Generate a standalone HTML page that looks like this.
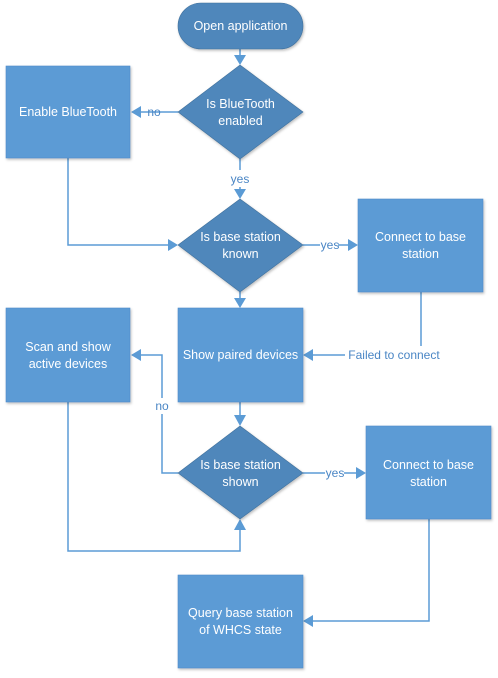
<!DOCTYPE html>
<html><head><style>
html,body{margin:0;padding:0;background:#fff;}
svg{display:block;}
text{font-family:"Liberation Sans",sans-serif;font-size:12.5px;}
.w{fill:#fff;text-anchor:middle;}
.l{fill:#4a86c5;text-anchor:middle;font-size:12px;}
.ln{stroke:#5b9bd5;stroke-width:1.5;fill:none;}
.bx{fill:#5b9bd5;stroke:#4f8ccb;stroke-width:0.6;}
.dm{fill:#4f87bb;stroke:#41719c;stroke-width:0.6;}
.ah{fill:#5b9bd5;}
</style></head><body>
<svg width="498" height="678" viewBox="0 0 498 678" xmlns="http://www.w3.org/2000/svg">
<defs>
<filter id="sh" x="-10%" y="-10%" width="130%" height="130%"><feDropShadow dx="1" dy="1.5" stdDeviation="1.2" flood-color="#000" flood-opacity="0.25"/></filter>
</defs>
<path class="ln" d="M240 49 V58"/>
<path class="ah" d="M234 55 L246 55 L240 65 Z"/>
<path class="ln" d="M178 112 H140"/>
<path class="ah" d="M131 112 L141 106 L141 118 Z"/>
<path class="ln" d="M240 159 V170 M240 187 V192"/>
<path class="ah" d="M234 189 L246 189 L240 199 Z"/>
<path class="ln" d="M68 158 V245 H170"/>
<path class="ah" d="M178 245 L168 239 L168 251 Z"/>
<path class="ln" d="M303 245 H320 M338 245 H350"/>
<path class="ah" d="M358 245 L348 239 L348 251 Z"/>
<path class="ln" d="M240 292 V300"/>
<path class="ah" d="M234 298 L246 298 L240 308 Z"/>
<path class="ln" d="M421 292 V346 M345 355 H312"/>
<path class="ah" d="M303 355 L313 349 L313 361 Z"/>
<path class="ln" d="M240 402 V418"/>
<path class="ah" d="M234 415 L246 415 L240 426 Z"/>
<path class="ln" d="M178 473 H162 V414 M162 398 V355 H140"/>
<path class="ah" d="M131 355 L141 349 L141 361 Z"/>
<path class="ln" d="M303 473 H325 M344 473 H358"/>
<path class="ah" d="M366 473 L356 467 L356 479 Z"/>
<path class="ln" d="M68 402 V551 H240 V528"/>
<path class="ah" d="M234 530 L246 530 L240 519 Z"/>
<path class="ln" d="M429 519 V621 H312"/>
<path class="ah" d="M303 621 L313 615 L313 627 Z"/>
<rect x="178" y="3" width="125" height="46" rx="23" class="dm" filter="url(#sh)"/>
<text class="w" x="240.5" y="30">Open application</text>
<path class="dm" d="M240 65 L303 112 L240 159 L178 112 Z" filter="url(#sh)"/>
<text class="w" x="240.5" y="108">Is BlueTooth</text>
<text class="w" x="240.5" y="125">enabled</text>
<rect class="bx" x="6" y="66" width="124" height="92" filter="url(#sh)"/>
<text class="w" x="68" y="116">Enable BlueTooth</text>
<path class="dm" d="M240 199 L303 245 L240 292 L178 245 Z" filter="url(#sh)"/>
<text class="w" x="240.5" y="241">Is base station</text>
<text class="w" x="240.5" y="258">known</text>
<rect class="bx" x="358" y="199" width="125" height="93" filter="url(#sh)"/>
<text class="w" x="420.5" y="241">Connect to base</text>
<text class="w" x="420.5" y="258">station</text>
<rect class="bx" x="178" y="308" width="125" height="94" filter="url(#sh)"/>
<text class="w" x="240.5" y="359">Show paired devices</text>
<rect class="bx" x="6" y="308" width="124" height="94" filter="url(#sh)"/>
<text class="w" x="68" y="351">Scan and show</text>
<text class="w" x="68" y="368">active devices</text>
<path class="dm" d="M240 426 L303 473 L240 519 L178 473 Z" filter="url(#sh)"/>
<text class="w" x="240.5" y="469">Is base station</text>
<text class="w" x="240.5" y="486">shown</text>
<rect class="bx" x="366" y="426" width="125" height="93" filter="url(#sh)"/>
<text class="w" x="428.5" y="469">Connect to base</text>
<text class="w" x="428.5" y="486">station</text>
<rect class="bx" x="178" y="575" width="125" height="93" filter="url(#sh)"/>
<text class="w" x="240.5" y="617">Query base station</text>
<text class="w" x="240.5" y="634">of WHCS state</text>
<text class="l" x="154" y="116">no</text>
<text class="l" x="240" y="183">yes</text>
<text class="l" x="330" y="249">yes</text>
<text class="l" x="394" y="359">Failed to connect</text>
<text class="l" x="162" y="410">no</text>
<text class="l" x="335" y="477">yes</text>
</svg>
</body></html>
